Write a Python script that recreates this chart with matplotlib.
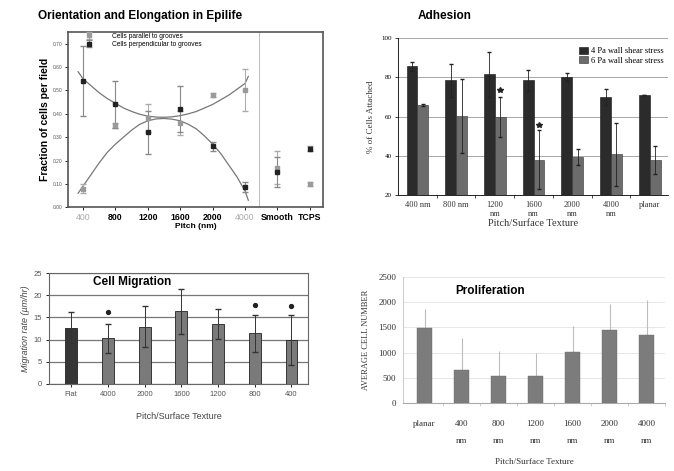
import numpy as np
import matplotlib
matplotlib.use('Agg')
import matplotlib.pyplot as plt

# ---- panel 1: orientation ----
pitch_labels = ['400', '800', '1200', '1600', '2000', '4000', 'Smooth', 'TCPS']
perp_vals = [0.54, 0.44, 0.32, 0.42, 0.26, 0.086, 0.15, 0.25]
perp_err = [0.15, 0.10, 0.09, 0.10, 0.02, 0.02, 0.065, 0.01]
par_vals = [0.08, 0.35, 0.38, 0.36, 0.48, 0.50, 0.17, 0.10]
par_err = [0.02, 0.01, 0.06, 0.05, 0.01, 0.09, 0.07, 0.01]
# fitted curves
curve_x = [-0.15, 0, 0.25, 0.5, 0.75, 1, 1.25, 1.5, 1.75, 2, 2.25, 2.5, 2.75,
           3, 3.25, 3.5, 3.75, 4, 4.25, 4.5, 4.75, 5, 5.1]
curve_u = [0.58, 0.55, 0.52, 0.49, 0.465, 0.445, 0.425, 0.41, 0.398, 0.39, 0.386, 0.385,
           0.387, 0.392, 0.40, 0.41, 0.425, 0.44, 0.46, 0.48, 0.505, 0.53, 0.56]
curve_n = [0.06, 0.09, 0.14, 0.19, 0.235, 0.27, 0.30, 0.33, 0.355, 0.37, 0.378, 0.38,
           0.377, 0.37, 0.355, 0.335, 0.305, 0.27, 0.23, 0.18, 0.13, 0.07, 0.03]

# ---- panel 2: adhesion ----
adh_labels = ['400 nm', '800 nm', '1200\nnm', '1600\nnm', '2000\nnm', '4000\nnm', 'planar']
adh_4pa = [85.6, 78.5, 81.5, 78.5, 80.0, 70.0, 71.2]
adh_4pa_err = [2.2, 8.5, 11.5, 5.5, 2.0, 4.0, 0.0]
adh_6pa = [65.8, 60.2, 59.8, 38.0, 39.5, 40.8, 37.8]
adh_6pa_err = [0.5, 19.0, 10.0, 15.0, 4.0, 16.0, 7.0]
adh_star = [None, None, 73.4, 55.6, None, None, None]

# ---- panel 3: migration ----
mig_labels = ['Flat', '4000', '2000', '1600', '1200', '800', '400']
mig_vals = [12.7, 10.3, 12.9, 16.4, 13.5, 11.4, 9.9]
mig_err = [3.5, 3.3, 4.6, 5.1, 3.3, 4.1, 5.6]
mig_star = [None, 16.2, None, None, None, 17.9, 17.5]

# ---- panel 4: proliferation ----
pro_labels = ['planar', '400\nnm', '800\nnm', '1200\nnm', '1600\nnm', '2000\nnm', '4000\nnm']
pro_vals = [1479, 650, 530, 530, 1008, 1446, 1360]
pro_err = [378, 643, 498, 465, 530, 510, 682]

SANS = 'Liberation Sans'
SERIF = 'Liberation Serif'

fig = plt.figure(figsize=(6.74, 4.71), dpi=100)

# ================= panel 1 =================
ax1 = fig.add_axes([0.101, 0.560, 0.378, 0.372])
x1 = np.arange(len(pitch_labels))
ax1.plot(curve_x, curve_u, color='#777777', lw=0.9)
ax1.plot(curve_x, curve_n, color='#777777', lw=0.9)
ax1.errorbar(x1, par_vals, yerr=par_err, fmt='s', ms=3.5, color='#9a9a9a',
             ecolor='#aaaaaa', elinewidth=0.7, capsize=2, label='Cells parallel to grooves')
ax1.errorbar(x1, perp_vals, yerr=perp_err, fmt='s', ms=3.5, color='#222222',
             ecolor='#888888', elinewidth=0.8, capsize=2, label='Cells perpendicular to grooves')
ax1.axvline(5.43, color='#bbbbbb', lw=0.7)
ax1.set_xlim(-0.46, 7.4)
ax1.set_ylim(0, 0.75)
ax1.set_yticks(np.arange(0, 0.71, 0.1))
ax1.set_yticklabels(['%.2f' % v for v in np.arange(0, 0.71, 0.1)], fontsize=3.5,
                    family=SANS, color='#555555')
ax1.set_xticks(x1)
ax1.set_xticklabels(pitch_labels, fontsize=6.3, family=SANS, fontweight='bold')
for i, t in enumerate(ax1.get_xticklabels()):
    if i in (0, 5):
        t.set_color('#aaaaaa')
        t.set_fontweight('normal')
ax1.tick_params(length=2, width=0.6, pad=2)
for s in ax1.spines.values():
    s.set_linewidth(1.2)
    s.set_color('#555555')
ax1.set_xlabel('Pitch (nm)', fontsize=6, family=SANS, fontweight='bold', labelpad=1)
ax1.set_ylabel('Fraction of cells per field', fontsize=7.5, family=SANS,
               fontweight='bold', labelpad=2)
ax1.legend(loc='upper left', bbox_to_anchor=(0.04, 1.02), frameon=False,
           handletextpad=2.5, borderaxespad=0.2, labelspacing=0.2,
           prop={'family': SANS, 'size': 4.8})
fig.text(0.056, 0.965, 'Orientation and Elongation in Epilife', fontsize=8.5,
         family=SANS, fontweight='bold', va='center')

# ================= panel 2 =================
ax2 = fig.add_axes([0.590, 0.586, 0.401, 0.333])
x2 = np.arange(len(adh_labels))
w = 0.28
ax2.bar(x2 - w / 2, adh_4pa, w, yerr=adh_4pa_err, color='#2b2b2b', edgecolor='#111111',
        lw=0.4, error_kw=dict(ecolor='#222222', elinewidth=0.6, capsize=1.5),
        label='4 Pa wall shear stress', zorder=2)
ax2.bar(x2 + w / 2, adh_6pa, w, yerr=adh_6pa_err, color='#6c6c6c', edgecolor='#333333',
        lw=0.4, error_kw=dict(ecolor='#222222', elinewidth=0.6, capsize=1.5),
        label='6 Pa wall shear stress', zorder=2)
for i, s in enumerate(adh_star):
    if s is not None:
        ax2.plot(x2[i] + w / 2, s, marker='*', color='#222222', ms=4, zorder=3)
ax2.set_xlim(-0.51, 6.47)
ax2.set_ylim(20, 100)
ax2.set_yticks([20, 40, 60, 80, 100])
ax2.set_yticklabels(['20', '40', '60', '80', '100'], fontsize=5, family=SERIF)
ax2.yaxis.grid(True, color='#999999', lw=0.6)
ax2.set_axisbelow(True)
ax2.set_xticks(x2)
ax2.set_xticklabels(adh_labels, fontsize=6, family=SERIF, color='#333333', linespacing=1.2)
ax2.set_xticks(np.arange(0.5, 6, 1), minor=True)
ax2.tick_params(axis='x', which='major', length=0, pad=4)
ax2.tick_params(axis='x', which='minor', length=2, width=0.5)
ax2.tick_params(axis='y', length=2, width=0.5, pad=2)
for k in ('top', 'right'):
    ax2.spines[k].set_visible(False)
ax2.spines['left'].set_linewidth(0.6)
ax2.spines['bottom'].set_linewidth(0.6)
ax2.set_xlabel('Pitch/Surface Texture', fontsize=7.5, family=SERIF, labelpad=1, color='#333333')
ax2.set_ylabel('% of Cells Attached', fontsize=6.5, family=SERIF, labelpad=5, color='#333333')
ax2.legend(loc='upper right', bbox_to_anchor=(1.0, 0.97), frameon=False,
           prop={'family': SERIF, 'size': 6}, handlelength=1.0, handleheight=0.9,
           handletextpad=0.4, labelspacing=0.1, borderaxespad=0.1)
fig.text(0.620, 0.967, 'Adhesion', fontsize=8.5, family=SANS, fontweight='bold', va='center')

# ================= panel 3 =================
ax3 = fig.add_axes([0.073, 0.185, 0.384, 0.235])
x3 = np.arange(len(mig_labels))
mig_colors = ['#363636'] + ['#7a7a7a'] * (len(mig_labels) - 1)
ax3.bar(x3, mig_vals, 0.32, yerr=mig_err, color=mig_colors, edgecolor='#222222', lw=0.6,
        error_kw=dict(ecolor='#333333', elinewidth=0.7, capsize=2), zorder=2)
for i, s in enumerate(mig_star):
    if s is not None:
        ax3.plot(x3[i], s, marker='o', color='#222222', ms=2.8, zorder=3)
ax3.set_xlim(-0.6, 6.45)
ax3.set_ylim(0, 25)
ax3.set_yticks([0, 5, 10, 15, 20, 25])
ax3.set_yticklabels(['0', '5', '10', '15', '20', '25'], fontsize=5.5, family=SANS,
                    color='#555555')
ax3.yaxis.grid(True, color='#777777', lw=0.9)
ax3.set_axisbelow(True)
ax3.set_xticks(x3)
ax3.set_xticklabels(mig_labels, fontsize=5.5, family=SANS, color='#555555')
ax3.tick_params(length=2, width=0.6, pad=3)
for s in ax3.spines.values():
    s.set_linewidth(0.8)
    s.set_color('#666666')
ax3.set_xlabel('Pitch/Surface Texture', fontsize=6.5, family=SANS, color='#444444', labelpad=10)
ax3.set_ylabel('Migration rate (\u00b5m/hr)', fontsize=6.5, family=SANS, style='italic',
               color='#444444', labelpad=3)
ax3.text(0.32, 0.92, 'Cell Migration', transform=ax3.transAxes, fontsize=8.5,
         family=SANS, fontweight='bold', ha='center', va='center')

# ================= panel 4 =================
ax4 = fig.add_axes([0.598, 0.144, 0.389, 0.268])
x4 = np.arange(len(pro_labels))
ax4.bar(x4, pro_vals, 0.4, color='#7c7c7c', edgecolor='#6a6a6a', lw=0.3, zorder=2)
ax4.errorbar(x4, pro_vals, yerr=[np.zeros(len(pro_err)), pro_err], fmt='none',
             ecolor='#bdbdbd', elinewidth=0.8, capsize=0, zorder=1)
ax4.set_xlim(-0.58, 6.37)
ax4.set_ylim(0, 2500)
ax4.set_yticks([0, 500, 1000, 1500, 2000, 2500])
ax4.set_yticklabels(['0', '500', '1000', '1500', '2000', '2500'], fontsize=6.5,
                    family=SERIF, color='#333333')
ax4.yaxis.grid(True, color='#e2e2e2', lw=0.6)
ax4.set_axisbelow(True)
ax4.set_xticks(x4)
ax4.set_xticklabels(pro_labels, fontsize=6.5, family=SERIF, linespacing=2.6,
                    color='#333333')
ax4.set_xticks(np.arange(0.5, 7, 1), minor=True)
ax4.tick_params(axis='x', which='major', length=0, pad=12)
ax4.tick_params(axis='x', which='minor', length=2, width=0.4, color='#aaaaaa')
ax4.tick_params(axis='y', length=0, pad=5)
for k in ('top', 'right'):
    ax4.spines[k].set_visible(False)
ax4.spines['left'].set_color('#cccccc')
ax4.spines['bottom'].set_color('#aaaaaa')
ax4.set_xlabel('Pitch/Surface Texture', fontsize=6.5, family=SERIF, labelpad=9,
               color='#333333')
ax4.set_ylabel('AVERAGE CELL NUMBER', fontsize=6, family=SERIF, labelpad=6,
               color='#333333')
ax4.text(0.33, 0.89, 'Proliferation', transform=ax4.transAxes, fontsize=8.5,
         family=SANS, fontweight='bold', ha='center', va='center')

fig.savefig('out.png', dpi=100)
